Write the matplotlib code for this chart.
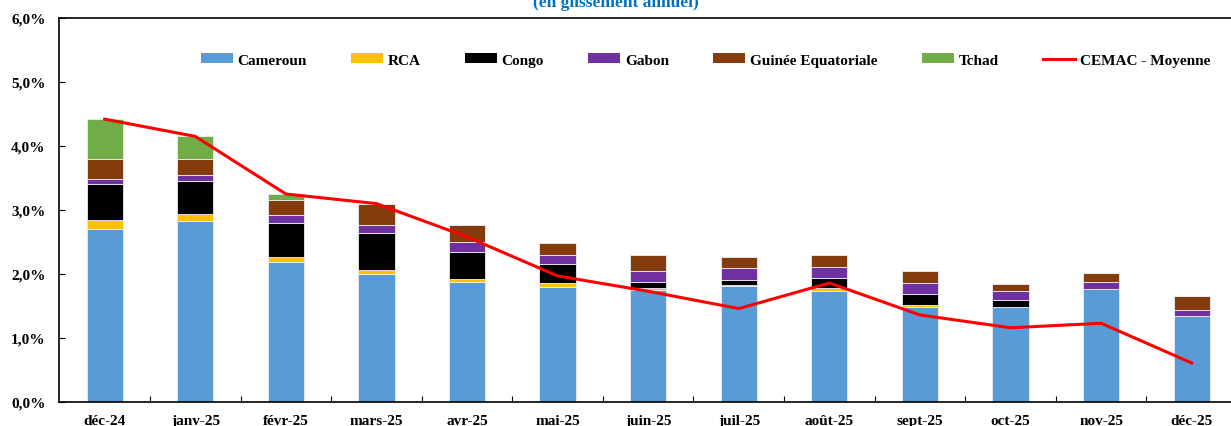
import numpy as np
import matplotlib
matplotlib.use('Agg')
import matplotlib.pyplot as plt
from matplotlib.patches import Patch
from matplotlib.lines import Line2D
from matplotlib.ticker import FuncFormatter, FixedLocator

plt.rcParams['font.family'] = ['Liberation Serif', 'DejaVu Serif']
plt.rcParams['font.weight'] = 'bold'

months = ['déc-24', 'janv-25', 'févr-25', 'mars-25', 'avr-25', 'mai-25', 'juin-25',
          'juil-25', 'août-25', 'sept-25', 'oct-25', 'nov-25', 'déc-25']

# contributions (points de %)
cameroun = [2.71, 2.83, 2.18, 2.00, 1.88, 1.80, 1.75, 1.82, 1.74, 1.49, 1.49, 1.77, 1.34]
rca      = [0.14, 0.11, 0.08, 0.06, 0.04, 0.06, 0.03, 0.015, 0.04, 0.03, 0.0, -0.015, 0.0]
congo    = [0.56, 0.52, 0.54, 0.58, 0.43, 0.30, 0.10, 0.07, 0.15, 0.17, 0.11, 0.0, -0.015]
gabon    = [0.08, 0.09, 0.12, 0.13, 0.15, 0.13, 0.17, 0.19, 0.18, 0.17, 0.14, 0.10, 0.10]
guinee   = [0.31, 0.25, 0.24, 0.33, 0.27, 0.19, 0.24, 0.17, 0.19, 0.18, 0.10, 0.15, 0.21]
tchad    = [0.62, 0.35, 0.09, 0.0, -0.015, -0.015, -0.015, -0.015, -0.015, -0.015, -0.015, 0.0, 0.0]
cemac    = [4.42, 4.15, 3.25, 3.10, 2.58, 1.97, 1.73, 1.46, 1.86, 1.36, 1.16, 1.23, 0.61]

series = [
    ('Cameroun', cameroun, '#5B9BD5'),
    ('RCA', rca, '#FFC000'),
    ('Congo', congo, '#000000'),
    ('Gabon', gabon, '#7030A0'),
    ('Guinée Equatoriale', guinee, '#843C0C'),
    ('Tchad', tchad, '#70AD47'),
]

W, H = 1231, 427
fig = plt.figure(figsize=(W / 100, H / 100), dpi=100)
ax = fig.add_axes([59.4 / W, 1 - 403 / H, (1237 - 59.4) / W, (403 - 19) / H])

x = np.arange(len(months))
pos_bot = np.zeros(len(months))
neg_bot = np.zeros(len(months))
handles = []
for name, vals, col in series:
    v = np.array(vals, dtype=float)
    bot = np.where(v >= 0, pos_bot, neg_bot)
    ax.bar(x, v, 0.4, bottom=bot, color=col, edgecolor='#e8eef6', linewidth=0.6)
    pos_bot = pos_bot + np.where(v > 0, v, 0)
    neg_bot = neg_bot + np.where(v < 0, v, 0)
    handles.append(Patch(facecolor=col, edgecolor='none', label=name))

ax.plot(x, cemac, color='#FF0000', lw=2.2, zorder=5)
handles.append(Line2D([], [], color='#FF0000', lw=2.2, label='CEMAC - Moyenne'))

ax.set_xlim(-0.5, len(months) - 0.5)
ax.set_ylim(0, 6)
ax.set_yticks(np.arange(0, 7, 1))
ax.yaxis.set_major_formatter(FuncFormatter(lambda v, p: f'{v:.1f}%'.replace('.', ',')))
ax.set_xticks(x)
ax.set_xticklabels(months)
ax.xaxis.set_minor_locator(FixedLocator(np.arange(0.5, len(months) - 1, 1)))
ax.tick_params(axis='x', which='major', length=0, pad=9, labelsize=11)
ax.tick_params(axis='x', which='minor', direction='in', length=4, width=0.8)
ax.tick_params(axis='y', direction='in', length=4, width=0.8, pad=10, labelsize=11)
for s in ax.spines.values():
    s.set_linewidth(1.2)

fig.legend(handles=handles, loc='center', bbox_to_anchor=(0.573, 1 - 61 / H), ncol=7,
           frameon=False, fontsize=11, handlelength=2.1, handleheight=0.55,
           handletextpad=0.3, columnspacing=2.9)

# title is partly cut by the top edge, as in the source image
fig.text(0.5, 1 - 3 / H, '(en glissement annuel)', ha='center', va='center',
         color='#0070C0', fontsize=12.5, fontweight='bold')

fig.savefig('out.png', dpi=100)
